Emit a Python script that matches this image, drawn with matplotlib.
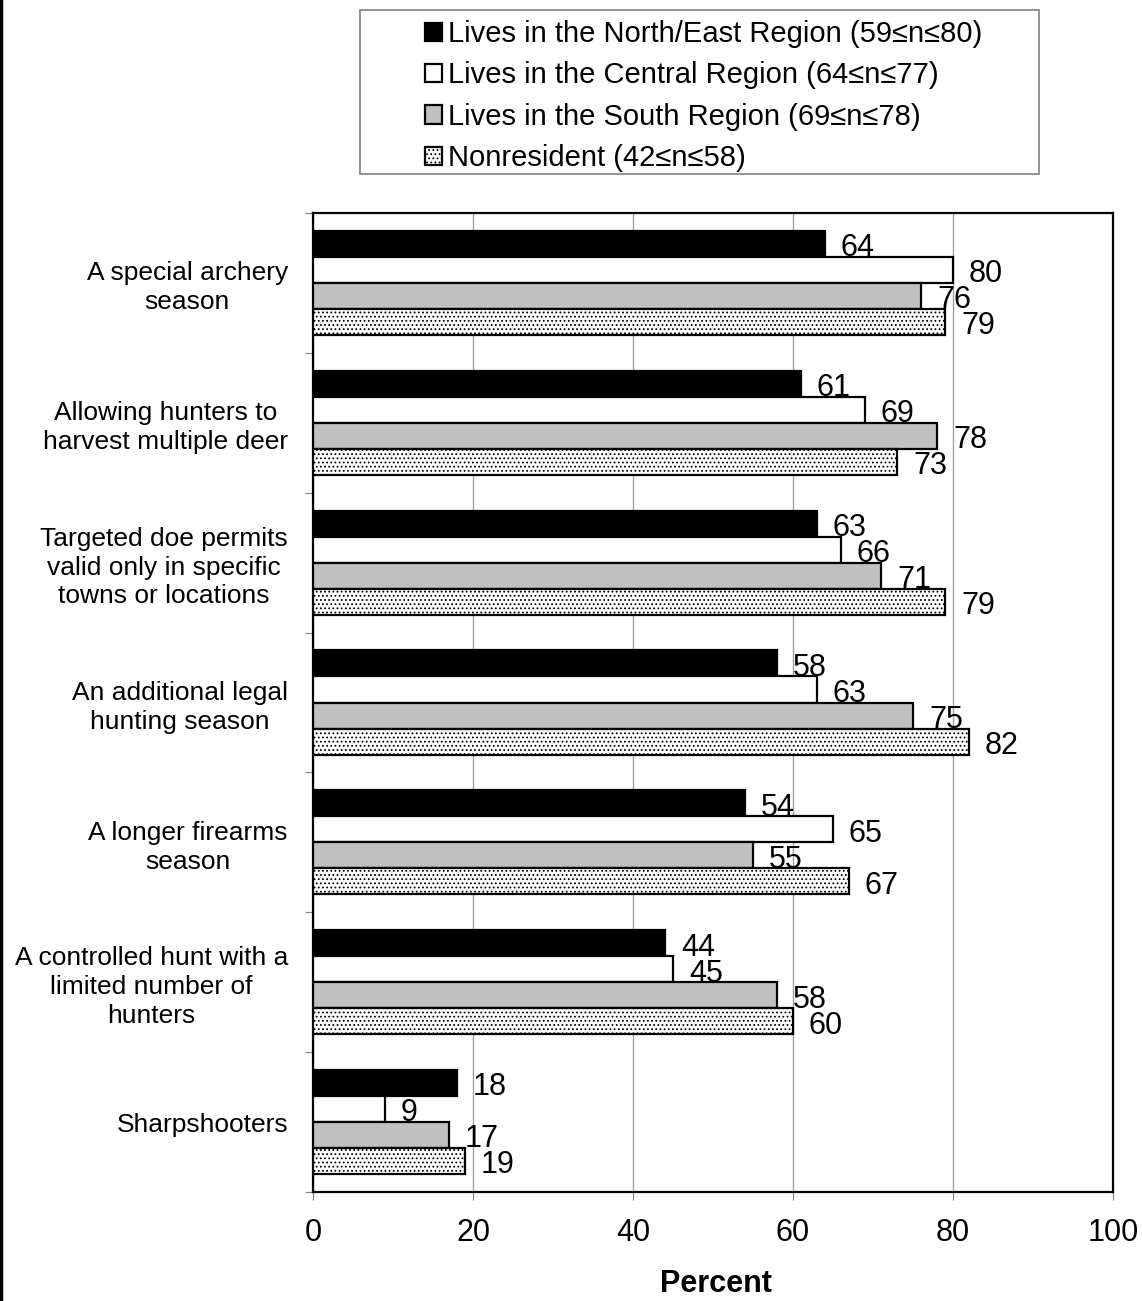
import matplotlib.pyplot as plt
import numpy as np
from matplotlib.patches import Rectangle
from matplotlib.lines import Line2D

plt.rcParams['font.family'] = ['Liberation Sans', 'DejaVu Sans']
plt.rcParams['hatch.linewidth'] = 0.8

categories = [
    "A special archery\nseason",
    "Allowing hunters to\nharvest multiple deer",
    "Targeted doe permits\nvalid only in specific\ntowns or locations",
    "An additional legal\nhunting season",
    "A longer firearms\nseason",
    "A controlled hunt with a\nlimited number of\nhunters",
    "Sharpshooters",
]
series_names = [
    "Lives in the North/East Region (59\u2264n\u226480)",
    "Lives in the Central Region (64\u2264n\u226477)",
    "Lives in the South Region (69\u2264n\u226478)",
    "Nonresident (42\u2264n\u226458)",
]
north_east = [64, 61, 63, 58, 54, 44, 18]
central = [80, 69, 66, 63, 65, 45, 9]
south = [76, 78, 71, 75, 55, 58, 17]
nonresident = [79, 73, 79, 82, 67, 60, 19]
xticks = [0, 20, 40, 60, 80, 100]

series = [north_east, central, south, nonresident]
colors = ['black', 'white', '#c0c0c0', 'white']
hatches = [None, None, None, '....']

fig = plt.figure(figsize=(11.42, 13.01), dpi=100)
ax = fig.add_axes([313 / 1142, 1 - 1192 / 1301, 800 / 1142, 979 / 1301])

y = np.arange(len(categories))
h = 0.186
handles = []
for k, vals in enumerate(series):
    pos = y + (k - 1.5) * h
    bars = ax.barh(pos, vals, height=h, color=colors[k], edgecolor='black',
                   linewidth=1.6, hatch=hatches[k], zorder=3,
                   label=series_names[k])
    handles.append(bars)
    for p, v in zip(pos, vals):
        ax.text(v + 2.0, p + h / 2 - 0.005, str(v), ha='left', va='baseline',
                fontsize=22, zorder=4)

ax.set_xlim(0, 100)
ax.set_ylim(len(categories) - 0.5, -0.5)
ax.set_xticks(xticks)
ax.set_xticklabels([str(t) for t in xticks], fontsize=22)
ax.tick_params(axis='x', length=6, color='#808080', pad=13)
ax.set_yticks(np.arange(len(categories) + 1) - 0.5)
ax.set_yticklabels([])
ax.tick_params(axis='y', which='major', length=6, color='#808080')
ax.set_yticks(y, minor=True)
ax.set_yticklabels(categories, minor=True, fontsize=19)
ax.tick_params(axis='y', which='minor', length=0, pad=18)
for lbl in ax.get_yticklabels(minor=True):
    lbl.set_multialignment('center')
    lbl.set_linespacing(1.25)
ax.grid(axis='x', color='#a0a0a0', linewidth=1, zorder=0)
ax.set_axisbelow(True)
for s in ax.spines.values():
    s.set_linewidth(1.6)

fig.text(716 / 1142, 1 - 1292 / 1301, "Percent", ha='center', va='baseline',
         fontsize=22, fontweight='bold')

# legend box
fig.add_artist(Rectangle((360 / 1142, 1 - 174 / 1301), 679 / 1142, 164 / 1301,
                         transform=fig.transFigure, facecolor='white',
                         edgecolor='#808080', linewidth=1.2))
fig.legend(handles=handles, loc='upper left',
           bbox_to_anchor=(425 / 1142, 1 - 20 / 1301), frameon=False,
           fontsize=21, handlelength=0.58, handleheight=0.58,
           handletextpad=0.2, labelspacing=0.46, borderpad=0,
           borderaxespad=0)

fig.add_artist(Line2D([0.001, 0.001], [0, 1], transform=fig.transFigure,
                      color='black', linewidth=2.5))

fig.savefig("out.png", dpi=100)
